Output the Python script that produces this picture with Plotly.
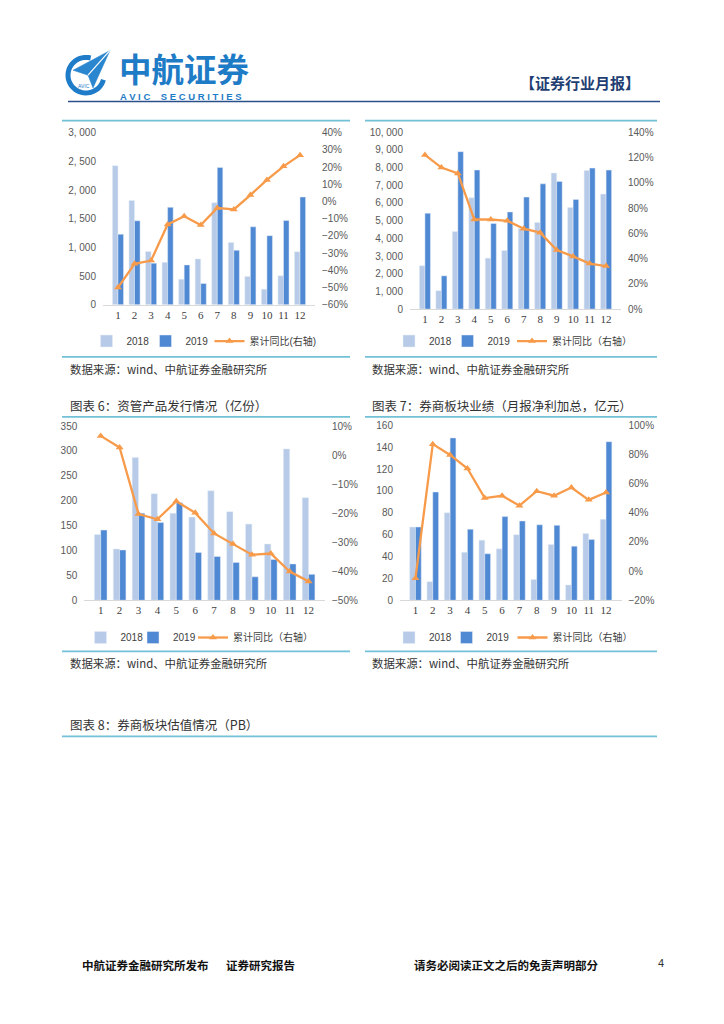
import numpy as np
import plotly.graph_objects as go

W, H = 724, 1024

months = ["1", "2", "3", "4", "5", "6", "7", "8", "9", "10", "11", "12"]

# Chart A (top-left)
a_2018 = [2425, 1820, 930, 740, 445, 800, 1780, 1085, 495, 270, 505, 925]
a_2019 = [1230, 1465, 725, 1700, 695, 370, 2395, 950, 1360, 1205, 1470, 1880]
a_yoy = [-0.50, -0.362, -0.343, -0.133, -0.085, -0.136, -0.037, -0.046, 0.038, 0.126, 0.205, 0.27]
a_left_vals = [0, 500, 1000, 1500, 2000, 2500, 3000]
a_left_text = ["0", "500", "1, 000", "1, 500", "2, 000", "2, 500", "3, 000"]

# Chart B (top-right)
b_2018 = [2450, 1040, 4390, 6290, 2880, 3310, 4560, 4900, 7690, 5740, 7840, 6500]
b_2019 = [5420, 1880, 8900, 7860, 4840, 5490, 6330, 7080, 7220, 6200, 7970, 7860]
b_yoy = [1.22, 1.12, 1.074, 0.709, 0.709, 0.699, 0.636, 0.605, 0.467, 0.417, 0.36, 0.341]
b_left_vals = [0, 1000, 2000, 3000, 4000, 5000, 6000, 7000, 8000, 9000, 10000]
b_left_text = ["0", "1, 000", "2, 000", "3, 000", "4, 000", "5, 000", "6, 000",
               "7, 000", "8, 000", "9, 000", "10, 000"]

# Chart 6 (bottom-left): 资管产品发行情况（亿份）
c_2018 = [132, 103, 287, 214, 175, 167, 220, 178, 153, 113, 304, 206]
c_2019 = [141, 101, 175, 156, 196, 96, 88, 76, 47, 82, 73, 52]
c_yoy = [0.066, 0.026, -0.203, -0.221, -0.159, -0.199, -0.27, -0.306, -0.343, -0.339, -0.401, -0.435]

# Chart 7 (bottom-right): 券商板块业绩（月报净利加总，亿元）
d_2018 = [67, 17, 80, 44, 55, 47, 60, 19, 51, 14, 61, 74]
d_2019 = [67, 99, 148.5, 65, 42.5, 76.5, 72.5, 69, 68.5, 49.5, 55.5, 145]
d_yoy = [-0.049, 0.871, 0.797, 0.704, 0.501, 0.517, 0.449, 0.548, 0.517, 0.573, 0.489, 0.539]

C18 = "#b7cbe8"
C19 = "#4f88d3"
CL = "#f79b4a"
TEAL = "#72c1d7"
TICKC = "#595959"


def fx(px):
    return px / W


def fy(py):
    return 1 - py / H


fig = go.Figure()

charts = [
    dict(d18=a_2018, d19=a_2019, yoy=a_yoy, xd=(103, 315), yd=(302.3, 128.3),
         lr=[0, 3000], lv=a_left_vals, lt=a_left_text, rr=[-0.6, 0.4], rd=0.1,
         leg=((106.5, 165.5, 229.5), 339), yoyname="累计同比(右轴)"),
    dict(d18=b_2018, d19=b_2019, yoy=b_yoy, xd=(410, 621), yd=(306.7, 127.7),
         lr=[0, 10000], lv=b_left_vals, lt=b_left_text, rr=[0, 1.4], rd=0.2,
         leg=((409, 467.5, 532), 339), yoyname="累计同比（右轴）"),
    dict(d18=c_2018, d19=c_2019, yoy=c_yoy, xd=(84.3, 325), yd=(601.3, 425),
         lr=[0, 350], lv=None, lt=None, ld=50, rr=[-0.5, 0.1], rd=0.1,
         leg=((100.5, 153, 213), 639), yoyname="累计同比（右轴）"),
    dict(d18=d_2018, d19=d_2019, yoy=d_yoy, xd=(400, 621.5), yd=(601.3, 424.3),
         lr=[0, 160], lv=None, lt=None, ld=20, rr=[-0.2, 1.0], rd=0.2,
         leg=((409, 466.5, 532.5), 639), yoyname="累计同比（右轴）"),
]

layout_axes = {}
legn = 0
for i, c in enumerate(charts):
    k = i + 1
    xa = "x" if k == 1 else f"x{k}"
    yl = "y" if k == 1 else f"y{2 * k - 1}"
    yr = f"y{2 * k}"

    names = []
    for j in range(3):
        legn += 1
        names.append("legend" if legn == 1 else f"legend{legn}")

    fig.add_trace(go.Bar(x=months, y=c["d18"], name="2018", marker_color=C18,
                         xaxis=xa, yaxis=yl, legend=names[0]))
    fig.add_trace(go.Bar(x=months, y=c["d19"], name="2019", marker_color=C19,
                         xaxis=xa, yaxis=yl, legend=names[1]))
    fig.add_trace(go.Scatter(x=months, y=c["yoy"], name=c["yoyname"], mode="lines+markers",
                             line=dict(color=CL, width=2.3),
                             marker=dict(symbol="triangle-up", size=7, color=CL),
                             xaxis=xa, yaxis=yr, legend=names[2]))

    xkey = "xaxis" if k == 1 else f"xaxis{k}"
    ylkey = "yaxis" if k == 1 else f"yaxis{2 * k - 1}"
    yrkey = f"yaxis{2 * k}"
    layout_axes[xkey] = dict(
        domain=[fx(c["xd"][0]), fx(c["xd"][1])], anchor=yl, type="category",
        showgrid=False, showline=True, linecolor="#d9d9d9", linewidth=1,
        ticks="", tickfont=dict(family="Liberation Serif", size=11, color="#404040"),
        fixedrange=True, zeroline=False,
    )
    yl_cfg = dict(
        domain=[fy(c["yd"][0]), fy(c["yd"][1])], anchor=xa, range=c["lr"],
        showgrid=False, showline=False, zeroline=False, ticks="",
        tickfont=dict(family="Liberation Sans", size=10, color=TICKC),
        ticklabelstandoff=6,
    )
    if c["lv"] is not None:
        yl_cfg.update(tickmode="array", tickvals=c["lv"], ticktext=c["lt"])
    else:
        yl_cfg.update(dtick=c["ld"], tick0=0)
    layout_axes[ylkey] = yl_cfg
    layout_axes[yrkey] = dict(
        overlaying=yl, side="right", anchor=xa, range=c["rr"], dtick=c["rd"], tick0=0,
        tickformat=".0%", showgrid=False, showline=False, zeroline=False, ticks="",
        tickfont=dict(family="Liberation Sans", size=10, color=TICKC),
        ticklabelstandoff=6,
    )
    centers, ly = c["leg"]
    for nm, cxp in zip(names, centers):
        layout_axes[nm] = dict(
            orientation="h", x=fx(cxp - 20), y=fy(ly), xanchor="left",
            yanchor="middle", bgcolor="rgba(0,0,0,0)", itemwidth=30,
            font=dict(family="Liberation Sans, Noto Sans CJK SC", size=10, color="#404040"),
            itemclick=False, itemdoubleclick=False,
        )

shapes = []


def hline(y, x0, x1, color, width):
    shapes.append(dict(type="line", xref="paper", yref="paper", x0=fx(x0), x1=fx(x1),
                       y0=fy(y), y1=fy(y), line=dict(color=color, width=width)))


# header rule
hline(96.7, 68, 660, "#2b4f8a", 1.6)
# chart frame rules
for yy in (116, 355, 415.7, 653):
    hline(yy, 62, 350, TEAL, 1.6)
    hline(yy, 365, 657, TEAL, 1.6)
hline(739, 62, 657, TEAL, 1.6)

# logo: ring and paper plane
cx, cy, r = 86, 70, 18
ang = np.radians(np.linspace(75, 345, 40))
ring = "M " + " L ".join(f"{fx(cx + r * np.cos(a))},{fy(cy - r * np.sin(a))}" for a in ang)
shapes.append(dict(type="path", xref="paper", yref="paper", path=ring,
                   line=dict(color="#1f7cc8", width=5)))
plane = [(110, 45), (73, 65), (88, 70), (93, 83)]
pth = "M " + " L ".join(f"{fx(x)},{fy(y)}" for x, y in plane) + " Z"
shapes.append(dict(type="path", xref="paper", yref="paper", path=pth,
                   fillcolor="#2a86cf", line=dict(color="#2a86cf", width=0.5)))
fold = [(110, 45), (88, 70)]
pth2 = "M " + " L ".join(f"{fx(x)},{fy(y)}" for x, y in fold)
shapes.append(dict(type="path", xref="paper", yref="paper", path=pth2,
                   line=dict(color="white", width=1.2)))

annotations = []


def txt(x, y, s, size, color="#333333", family="Noto Sans CJK SC", xanchor="left", bold=False):
    annotations.append(dict(
        x=fx(x), y=fy(y), xref="paper", yref="paper", xanchor=xanchor, yanchor="middle",
        text=f"<b>{s}</b>" if bold else s, showarrow=False,
        font=dict(family=family, size=size, color=color)))


txt(84, 81, "AVIC", 5, color="#1f7cc8", family="Liberation Sans", xanchor="center")
txt(117, 62.5, "中航证券", 32.5, color="#1e7bc6", bold=True)
txt(118, 92, "A V I C    S E C U R I T I E S", 9.5, color="#1e7bc6", family="Liberation Sans", bold=True)
txt(642, 77, "【证券行业月报】", 15, color="#1f3f73", xanchor="right", bold=True)

txt(68, 367, "数据来源：wind、中航证券金融研究所", 11.4)
txt(370, 367, "数据来源：wind、中航证券金融研究所", 11.4)
txt(68, 404, "图表 6：资管产品发行情况（亿份）", 12.5)
txt(370, 404, "图表 7：券商板块业绩（月报净利加总，亿元）", 12.5)
txt(68, 665, "数据来源：wind、中航证券金融研究所", 11.4)
txt(370, 665, "数据来源：wind、中航证券金融研究所", 11.4)
txt(68, 727, "图表 8：券商板块估值情况（PB）", 12.5)

txt(80, 970, "中航证券金融研究所发布", 11.5, color="#111111", bold=True)
txt(224, 970, "证券研究报告", 11.5, color="#111111", bold=True)
txt(412, 970, "请务必阅读正文之后的免责声明部分", 11.5, color="#111111", bold=True)
txt(666, 968, "4", 11, color="#333333", family="Liberation Sans", xanchor="right")

fig.update_layout(
    width=W, height=H, margin=dict(l=0, r=0, t=0, b=0),
    paper_bgcolor="white", plot_bgcolor="white",
    barmode="group", bargap=0.33, bargroupgap=0,
    shapes=shapes, annotations=annotations, showlegend=True,
    font=dict(family="Liberation Sans, Noto Sans CJK SC"),
    **layout_axes,
)

fig.write_html("out.html", config={"displayModeBar": False},
               post_script="document.body.style.margin='0px';")
